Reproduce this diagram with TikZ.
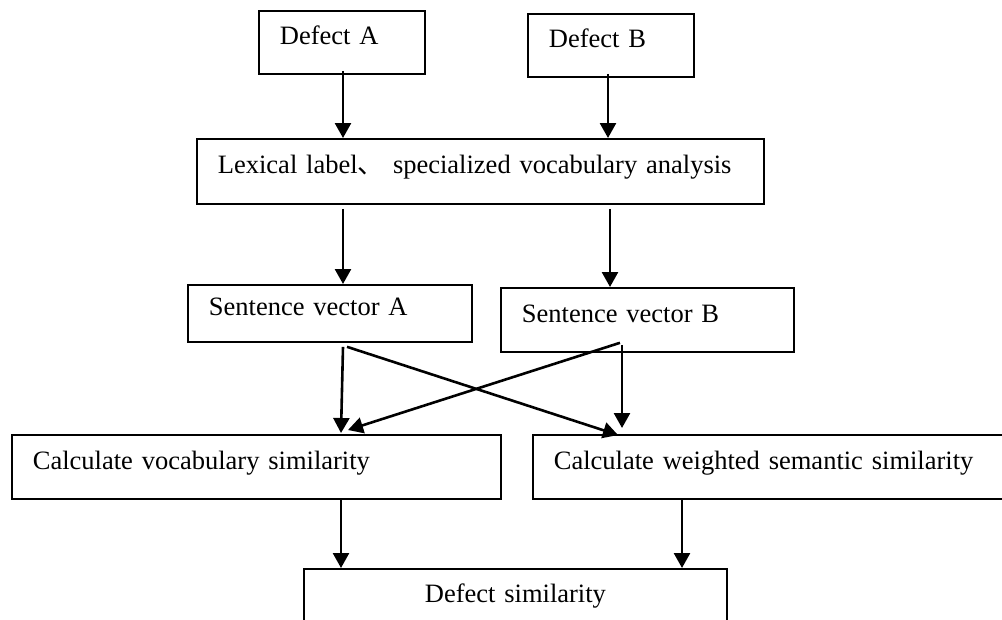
\documentclass[tikz,border=0pt]{standalone}
\usepackage{fontspec}
\setmainfont{Liberation Serif}
\newfontfamily\cjk{Noto Sans CJK SC}
\usetikzlibrary{arrows.meta}
\tikzset{
  box/.style={draw, line width=1.8pt, anchor=north west, inner xsep=21pt, inner ysep=0pt,
    text height=0.7em, text depth=0.2em, align=left},
  arr/.style={line width=2.6pt, -{Triangle[length=15pt,width=16pt]}}
}
\begin{document}
\begin{tikzpicture}[x=1pt,y=-1pt,font=\fontsize{26.5}{30}\selectfont]
\clip (0,0) rectangle (1002,619);
\fill[white] (0,0) rectangle (1002,619);
\node[box, text width=124pt, minimum height=63pt] (dA) at (258,10) {Defect A};
\node[box, text width=124pt, minimum height=63pt] (dB) at (527,13) {Defect B};
\node[box, text width=525pt, minimum height=65pt] (lex) at (196,138) {Lexical label{\cjk 、} specialized vocabulary analysis};
\node[box, text width=242pt, minimum height=57pt] (sva) at (187,284) {Sentence vector A};
\node[box, text width=251pt, minimum height=64pt] (svb) at (500,287) {Sentence vector B};
\node[box, text width=447pt, minimum height=64pt] (cv) at (11,434) {Calculate vocabulary similarity};
\node[box, text width=438pt, minimum height=64pt] (cw) at (532,434) {Calculate weighted semantic similarity};
\node[box, text width=381pt, minimum height=62pt, align=center] (ds) at (303,568) {Defect similarity};
% arrows
\draw[arr] ([yshift=4pt]dA.south -| 343,0) -- (lex.north -| 343,0);
\draw[arr] ([yshift=4pt]dB.south -| 608,0) -- (lex.north -| 608,0);
\draw[arr] ([yshift=-4pt]lex.south -| 343,0) -- (sva.north -| 343,0);
\draw[arr] ([yshift=-4pt]lex.south -| 610,0) -- (svb.north -| 610,0);
\draw[arr] ([yshift=-4pt]sva.south -| 343,0) -- ([yshift=1pt]cv.north -| 341,0);
\draw[arr] ([yshift=-4pt]sva.south -| 347,0) -- ([yshift=-1pt]cw.north -| 618,0);
\draw[arr] ([yshift=10pt]svb.south -| 620,0) -- ([yshift=4pt]cv.north -| 348,0);
\draw[arr] ([yshift=8pt]svb.south -| 622,0) -- ([yshift=6pt]cw.north -| 622,0);
\draw[arr] (cv.south -| 341,0) -- (ds.north -| 341,0);
\draw[arr] (cw.south -| 682,0) -- (ds.north -| 682,0);
\end{tikzpicture}
\end{document}
